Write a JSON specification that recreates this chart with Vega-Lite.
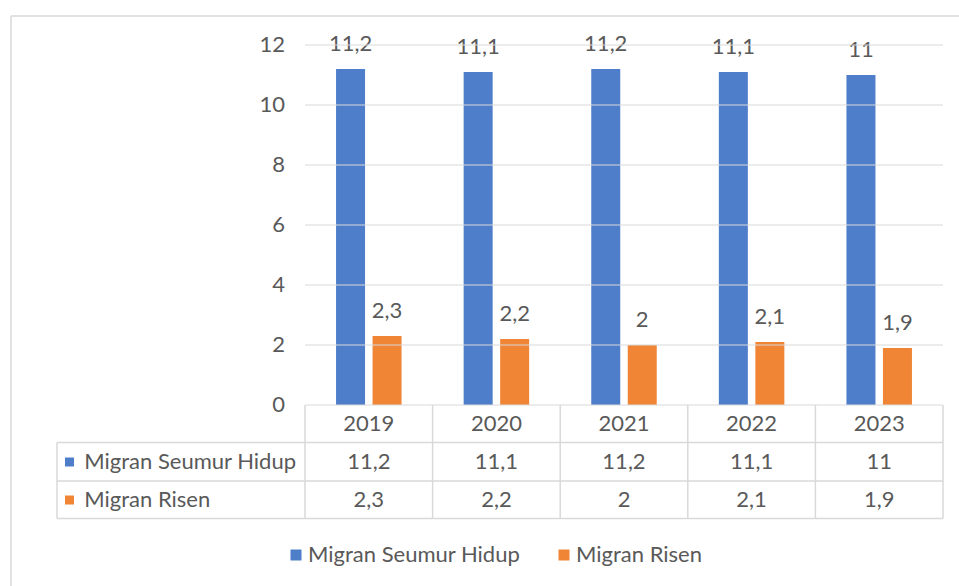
{
  "$schema": "https://vega.github.io/schema/vega-lite/v6.json",
  "width": 948,
  "height": 570,
  "autosize": {"type": "none"},
  "padding": {"left": 11, "top": 16, "right": 0, "bottom": 0},
  "background": "white",
  "config": {
    "view": {"stroke": null},
    "text": {"font": "Lato", "fontSize": 22, "color": "#595959"},
    "legend": {"labelFont": "Lato", "labelFontSize": 22, "labelColor": "#595959"}
  },
  "datasets": {
    "migrasi": [
      {"year": "2019", "series": "Migran Seumur Hidup", "value": 11.2},
      {"year": "2020", "series": "Migran Seumur Hidup", "value": 11.1},
      {"year": "2021", "series": "Migran Seumur Hidup", "value": 11.2},
      {"year": "2022", "series": "Migran Seumur Hidup", "value": 11.1},
      {"year": "2023", "series": "Migran Seumur Hidup", "value": 11.0},
      {"year": "2019", "series": "Migran Risen", "value": 2.3},
      {"year": "2020", "series": "Migran Risen", "value": 2.2},
      {"year": "2021", "series": "Migran Risen", "value": 2.0},
      {"year": "2022", "series": "Migran Risen", "value": 2.1},
      {"year": "2023", "series": "Migran Risen", "value": 1.9}
    ],
    "ticks": [
      {"tick": 0}, {"tick": 2}, {"tick": 4}, {"tick": 6}, {"tick": 8}, {"tick": 10}, {"tick": 12}
    ],
    "rows": [
      {"series": "Migran Seumur Hidup"},
      {"series": "Migran Risen"}
    ]
  },
  "data": {"name": "migrasi"},
  "resolve": {"scale": {"x": "independent"}},
  "layer": [
    {
      "transform": [{"calculate": "replace(format(datum.value, '.1~f'), '.', ',')", "as": "label"}],
      "layer": [
        {
          "mark": {"type": "bar"},
          "encoding": {
            "x": {"field": "year", "type": "nominal", "axis": null,
                  "scale": {"type": "band", "domain": ["2019", "2020", "2021", "2022", "2023"], "range": [294, 932], "paddingInner": 0, "paddingOuter": 0}},
            "xOffset": {"field": "series", "type": "nominal",
                        "scale": {"domain": ["Migran Seumur Hidup", "Migran Risen"], "paddingInner": 0.2055, "paddingOuter": 0.8507}},
            "y": {"field": "value", "type": "quantitative", "stack": null, "axis": null,
                  "scale": {"domain": [-6.0333, 12.9667], "nice": false, "zero": false}},
            "color": {"field": "series", "type": "nominal",
                      "scale": {"domain": ["Migran Seumur Hidup", "Migran Risen"], "range": ["#4E7DCA", "#EF8535"]},
                      "legend": {"orient": "none", "legendX": 274, "legendY": 528, "direction": "horizontal",
                                 "title": null, "symbolType": "square", "symbolSize": 121, "symbolStrokeWidth": 0,
                                 "columnPadding": 32, "labelOffset": 1, "labelLimit": 0, "padding": 0}}
          }
        },
        {
          "mark": {"type": "text", "align": "center", "baseline": "middle", "dy": -25},
          "encoding": {
            "x": {"field": "year", "type": "nominal",
                  "scale": {"type": "band", "domain": ["2019", "2020", "2021", "2022", "2023"], "range": [294, 932], "paddingInner": 0, "paddingOuter": 0}},
            "xOffset": {"field": "series", "type": "nominal"},
            "y": {"field": "value", "type": "quantitative"},
            "text": {"field": "label", "type": "nominal"}
          }
        },
        {
          "transform": [{"filter": "datum.series == 'Migran Seumur Hidup'"}],
          "mark": {"type": "rule", "color": "#d9d9d9", "strokeWidth": 1.5},
          "encoding": {
            "x": {"field": "year", "type": "nominal", "bandPosition": 0,
                  "scale": {"type": "band", "domain": ["2019", "2020", "2021", "2022", "2023"], "range": [294, 932], "paddingInner": 0, "paddingOuter": 0}},
            "y": {"datum": 0, "type": "quantitative"},
            "y2": {"datum": -3.783}
          }
        },
        {
          "transform": [{"filter": "datum.series == 'Migran Seumur Hidup'"}],
          "mark": {"type": "text", "align": "center", "baseline": "middle"},
          "encoding": {
            "x": {"field": "year", "type": "nominal",
                  "scale": {"type": "band", "domain": ["2019", "2020", "2021", "2022", "2023"], "range": [294, 932], "paddingInner": 0, "paddingOuter": 0}},
            "y": {"datum": -0.633, "type": "quantitative"},
            "text": {"field": "year", "type": "nominal"}
          }
        },
        {
          "transform": [{"filter": "datum.series == 'Migran Seumur Hidup'"}],
          "mark": {"type": "text", "align": "center", "baseline": "middle"},
          "encoding": {
            "x": {"field": "year", "type": "nominal",
                  "scale": {"type": "band", "domain": ["2019", "2020", "2021", "2022", "2023"], "range": [294, 932], "paddingInner": 0, "paddingOuter": 0}},
            "y": {"datum": -1.9, "type": "quantitative"},
            "text": {"field": "label", "type": "nominal"}
          }
        },
        {
          "transform": [{"filter": "datum.series == 'Migran Risen'"}],
          "mark": {"type": "text", "align": "center", "baseline": "middle"},
          "encoding": {
            "x": {"field": "year", "type": "nominal",
                  "scale": {"type": "band", "domain": ["2019", "2020", "2021", "2022", "2023"], "range": [294, 932], "paddingInner": 0, "paddingOuter": 0}},
            "y": {"datum": -3.167, "type": "quantitative"},
            "text": {"field": "label", "type": "nominal"}
          }
        }
      ]
    },
    {
      "data": {"name": "rows"},
      "transform": [{"filter": "datum.series == 'Migran Seumur Hidup'"}],
      "mark": {"type": "rule", "color": "#d9d9d9", "strokeWidth": 1.5},
      "encoding": {
        "x": {"datum": -2.3041, "type": "quantitative", "axis": null,
              "scale": {"domain": [-2.3041, 5.1254], "nice": false, "zero": false}},
        "x2": {"datum": 5.1254},
        "y": {"datum": 12.9667, "type": "quantitative"}
      }
    },
    {
      "data": {"name": "rows"},
      "transform": [{"filter": "datum.series == 'Migran Seumur Hidup'"}],
      "mark": {"type": "rule", "color": "#d9d9d9", "strokeWidth": 1.5},
      "encoding": {
        "x": {"datum": -2.3041, "type": "quantitative", "axis": null,
              "scale": {"domain": [-2.3041, 5.1254], "nice": false, "zero": false}},
        "y": {"datum": 12.9667, "type": "quantitative"},
        "y2": {"datum": -6.0333}
      }
    },
    {
      "data": {"name": "ticks"},
      "mark": {"type": "rule", "color": "#d9d9d9", "strokeWidth": 1},
      "encoding": {
        "x": {"datum": 0, "type": "quantitative", "axis": null,
              "scale": {"domain": [-2.3041, 5.1254], "nice": false, "zero": false}},
        "x2": {"datum": 5},
        "y": {"field": "tick", "type": "quantitative"}
      }
    },
    {
      "data": {"name": "ticks"},
      "mark": {"type": "text", "align": "right", "baseline": "middle"},
      "encoding": {
        "x": {"datum": -0.157, "type": "quantitative", "axis": null,
              "scale": {"domain": [-2.3041, 5.1254], "nice": false, "zero": false}},
        "y": {"field": "tick", "type": "quantitative"},
        "text": {"field": "tick", "type": "quantitative"}
      }
    },
    {
      "data": {"name": "rows"},
      "transform": [{"filter": "datum.series == 'Migran Seumur Hidup'"}],
      "mark": {"type": "rule", "color": "#d9d9d9", "strokeWidth": 1.5},
      "encoding": {
        "x": {"datum": -1.9436, "type": "quantitative", "axis": null,
              "scale": {"domain": [-2.3041, 5.1254], "nice": false, "zero": false}},
        "x2": {"datum": 5},
        "y": {"datum": -1.25, "type": "quantitative"}
      }
    },
    {
      "data": {"name": "rows"},
      "transform": [{"filter": "datum.series == 'Migran Seumur Hidup'"}],
      "mark": {"type": "rule", "color": "#d9d9d9", "strokeWidth": 1.5},
      "encoding": {
        "x": {"datum": -1.9436, "type": "quantitative", "axis": null,
              "scale": {"domain": [-2.3041, 5.1254], "nice": false, "zero": false}},
        "x2": {"datum": 5},
        "y": {"datum": -2.533, "type": "quantitative"}
      }
    },
    {
      "data": {"name": "rows"},
      "transform": [{"filter": "datum.series == 'Migran Seumur Hidup'"}],
      "mark": {"type": "rule", "color": "#d9d9d9", "strokeWidth": 1.5},
      "encoding": {
        "x": {"datum": -1.9436, "type": "quantitative", "axis": null,
              "scale": {"domain": [-2.3041, 5.1254], "nice": false, "zero": false}},
        "x2": {"datum": 5},
        "y": {"datum": -3.783, "type": "quantitative"}
      }
    },
    {
      "data": {"name": "rows"},
      "transform": [{"filter": "datum.series == 'Migran Seumur Hidup'"}],
      "mark": {"type": "rule", "color": "#d9d9d9", "strokeWidth": 1.5},
      "encoding": {
        "x": {"datum": -1.9436, "type": "quantitative", "axis": null,
              "scale": {"domain": [-2.3041, 5.1254], "nice": false, "zero": false}},
        "y": {"datum": -1.25, "type": "quantitative"},
        "y2": {"datum": -3.783}
      }
    },
    {
      "data": {"name": "rows"},
      "transform": [{"filter": "datum.series == 'Migran Seumur Hidup'"}],
      "mark": {"type": "rule", "color": "#d9d9d9", "strokeWidth": 1.5},
      "encoding": {
        "x": {"datum": 5, "type": "quantitative", "axis": null,
              "scale": {"domain": [-2.3041, 5.1254], "nice": false, "zero": false}},
        "y": {"datum": 0, "type": "quantitative"},
        "y2": {"datum": -3.783}
      }
    },
    {
      "data": {"name": "rows"},
      "transform": [{"filter": "datum.series == 'Migran Seumur Hidup'"}],
      "layer": [
        {
          "mark": {"type": "text", "align": "left", "baseline": "middle"},
          "encoding": {
            "x": {"datum": -1.73, "type": "quantitative", "axis": null,
                  "scale": {"domain": [-2.3041, 5.1254], "nice": false, "zero": false}},
            "y": {"datum": -1.9, "type": "quantitative"},
            "text": {"field": "series", "type": "nominal"}
          }
        },
        {
          "mark": {"type": "square", "filled": true, "size": 81, "color": "#4E7DCA", "opacity": 1},
          "encoding": {
            "x": {"datum": -1.8456, "type": "quantitative", "axis": null,
                  "scale": {"domain": [-2.3041, 5.1254], "nice": false, "zero": false}},
            "y": {"datum": -1.9, "type": "quantitative"}
          }
        }
      ]
    },
    {
      "data": {"name": "rows"},
      "transform": [{"filter": "datum.series == 'Migran Risen'"}],
      "layer": [
        {
          "mark": {"type": "text", "align": "left", "baseline": "middle"},
          "encoding": {
            "x": {"datum": -1.73, "type": "quantitative", "axis": null,
                  "scale": {"domain": [-2.3041, 5.1254], "nice": false, "zero": false}},
            "y": {"datum": -3.167, "type": "quantitative"},
            "text": {"field": "series", "type": "nominal"}
          }
        },
        {
          "mark": {"type": "square", "filled": true, "size": 81, "color": "#EF8535", "opacity": 1},
          "encoding": {
            "x": {"datum": -1.8456, "type": "quantitative", "axis": null,
                  "scale": {"domain": [-2.3041, 5.1254], "nice": false, "zero": false}},
            "y": {"datum": -3.167, "type": "quantitative"}
          }
        }
      ]
    }
  ]
}
